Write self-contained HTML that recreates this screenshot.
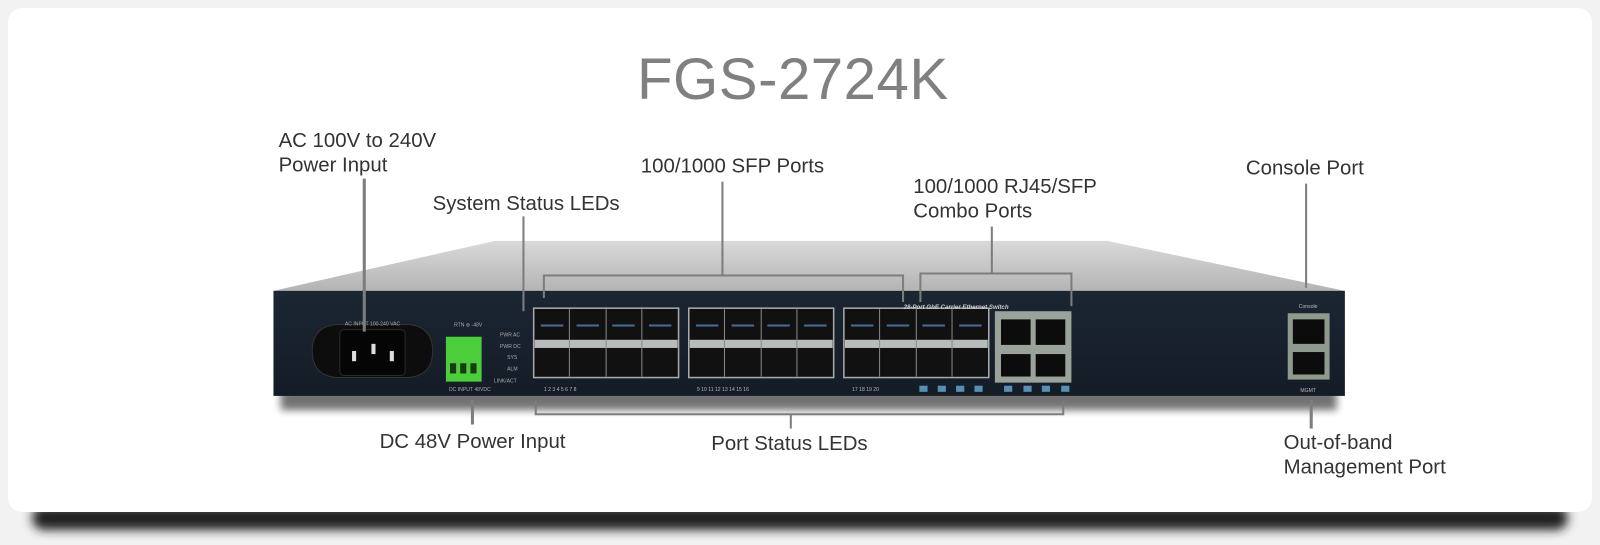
<!DOCTYPE html>
<html><head><meta charset="utf-8"><style>
html,body{margin:0;padding:0;background:#f2f2f2;width:1600px;height:545px;overflow:hidden}
svg{display:block}
text{font-family:"Liberation Sans",sans-serif}
</style></head><body>
<svg width="1600" height="545" viewBox="0 0 1600 545" xmlns="http://www.w3.org/2000/svg">
<defs>
<filter id="blur" x="-5%" y="-50%" width="110%" height="200%"><feGaussianBlur stdDeviation="5"/></filter>
<filter id="blur2" x="-5%" y="-50%" width="110%" height="200%"><feGaussianBlur stdDeviation="4"/></filter>
<linearGradient id="top" x1="0" y1="0" x2="0" y2="1"><stop offset="0" stop-color="#d9d9d9"/><stop offset="1" stop-color="#b4b4b4"/></linearGradient>
<linearGradient id="face" x1="0" y1="0" x2="0" y2="1"><stop offset="0" stop-color="#1b2633"/><stop offset="1" stop-color="#141c26"/></linearGradient>
</defs>
<rect x="0" y="0" width="1600" height="545" fill="#f2f2f2"/>
<rect x="32" y="506" width="1536" height="24" rx="12" fill="#222" filter="url(#blur)"/>
<rect x="8" y="8" width="1584" height="504" rx="14" fill="#ffffff"/>

<g transform="scale(1.0204)">
<text x="777" y="97" text-anchor="middle" font-size="57" fill="#808080" letter-spacing="0.5">FGS-2724K</text>

<g font-size="20" fill="#333">
<text x="273" y="144">AC 100V to 240V</text>
<text x="273" y="168">Power Input</text>
<text x="424" y="206">System Status LEDs</text>
<text x="628" y="169">100/1000 SFP Ports</text>
<text x="895" y="189">100/1000 RJ45/SFP</text>
<text x="895" y="213">Combo Ports</text>
<text x="1221" y="171">Console Port</text>
<text x="372" y="439">DC 48V Power Input</text>
<text x="697" y="441">Port Status LEDs</text>
<text x="1258" y="440">Out-of-band</text>
<text x="1258" y="464">Management Port</text>
</g>

<rect x="275" y="380" width="1035" height="22" fill="#000" opacity="0.55" filter="url(#blur2)"/>
<polygon points="485,236 1085,236 1318,285 268,285" fill="url(#top)"/>
<rect x="268" y="285" width="1050" height="103" fill="url(#face)"/>

<path d="M306,344 Q306,320 330,318 L400,318 Q424,320 424,344 Q424,368 400,370 L330,370 Q306,368 306,344Z" fill="#0d0d0d" stroke="#333"/>
<rect x="333" y="323" width="64" height="45" rx="4" fill="#050505" stroke="#2a2a2a"/>
<rect x="345" y="344" width="4" height="10" fill="#ddd"/><rect x="364" y="337" width="4" height="10" fill="#ddd"/><rect x="382" y="344" width="4" height="10" fill="#ddd"/>
<text x="338" y="319" font-size="5" fill="#aaa">AC INPUT 100-240 VAC</text>
<rect x="437" y="330" width="35" height="44" fill="#4ccd3c"/>
<rect x="441" y="356" width="6" height="10" fill="#1b3a14"/><rect x="451" y="356" width="6" height="10" fill="#1b3a14"/><rect x="461" y="356" width="6" height="10" fill="#1b3a14"/>
<text x="445" y="320" font-size="5" fill="#aaa">RTN  ⊕  -48V</text>
<text x="440" y="383" font-size="5" fill="#aaa">DC INPUT 48VDC</text>
<g font-size="5" fill="#aaa"><text x="490" y="330">PWR AC</text><text x="490" y="341">PWR DC</text><text x="497" y="352">SYS</text><text x="497" y="363">ALM</text><text x="484" y="375">LINK/ACT</text></g>

<g id="sfp">
<rect x="523" y="302" width="142" height="68" fill="#111" stroke="#aaa" stroke-width="1.5"/>
<rect x="524" y="333" width="140" height="8" fill="#b9bcbc"/>
<g stroke="#888" stroke-width="1"><line x1="558" y1="303" x2="558" y2="369"/><line x1="594" y1="303" x2="594" y2="369"/><line x1="629" y1="303" x2="629" y2="369"/></g>
<g fill="#4a6a9a"><rect x="530" y="318" width="22" height="2"/><rect x="565" y="318" width="22" height="2"/><rect x="600" y="318" width="22" height="2"/><rect x="636" y="318" width="22" height="2"/></g>
</g>
<use href="#sfp" x="152"/>
<use href="#sfp" x="304"/>
<g font-size="5" fill="#bbb">
<text x="533" y="383">1    2    3    4    5    6    7    8</text>
<text x="683" y="383">9   10   11   12   13   14   15   16</text>
<text x="835" y="383">17   18   19   20</text>
</g>
<g fill="#5a8fb5"><rect x="901" y="378" width="8" height="6"/><rect x="919" y="378" width="8" height="6"/><rect x="937" y="378" width="8" height="6"/><rect x="955" y="378" width="8" height="6"/>
<rect x="984" y="378" width="8" height="6"/><rect x="1003" y="378" width="8" height="6"/><rect x="1021" y="378" width="8" height="6"/><rect x="1040" y="378" width="8" height="6"/></g>

<rect x="975" y="305" width="75" height="70" fill="#9aa39a"/>
<rect x="981" y="313" width="29" height="25" fill="#0c0c0c"/><rect x="1015" y="313" width="29" height="25" fill="#0c0c0c"/>
<rect x="981" y="347" width="29" height="22" fill="#0c0c0c"/><rect x="1015" y="347" width="29" height="22" fill="#0c0c0c"/>
<text x="937" y="303" font-size="6" font-style="italic" font-weight="bold" fill="#ccc" text-anchor="middle">28-Port GbE Carrier Ethernet Switch</text>

<rect x="1262" y="307" width="41" height="65" fill="#8f9a8f"/>
<rect x="1267" y="313" width="31" height="24" fill="#0c0c0c"/>
<rect x="1267" y="345" width="31" height="22" fill="#0c0c0c"/>
<text x="1282" y="302" font-size="5" fill="#bbb" text-anchor="middle">Console</text>
<text x="1282" y="384" font-size="5" fill="#bbb" text-anchor="middle">MGMT</text>

<g stroke="#7d7d7d" stroke-width="2" fill="none">
<line x1="357" y1="175" x2="357" y2="325" stroke-width="3"/>
<line x1="513" y1="212" x2="513" y2="305"/>
<line x1="708" y1="178" x2="708" y2="270"/>
<polyline points="533,292 533,270 885,270 885,296"/>
<line x1="972" y1="222" x2="972" y2="268"/>
<polyline points="902,296 902,268 1050,268 1050,300"/>
<line x1="1280" y1="180" x2="1280" y2="282"/>
<line x1="463" y1="392" x2="463" y2="416" stroke-width="3"/>
<polyline points="525,393 525,406 1042,406 1042,393"/>
<line x1="775" y1="406" x2="775" y2="420"/>
<line x1="1285" y1="392" x2="1285" y2="420" stroke-width="3"/>
</g>
</g>
</svg>
</body></html>
